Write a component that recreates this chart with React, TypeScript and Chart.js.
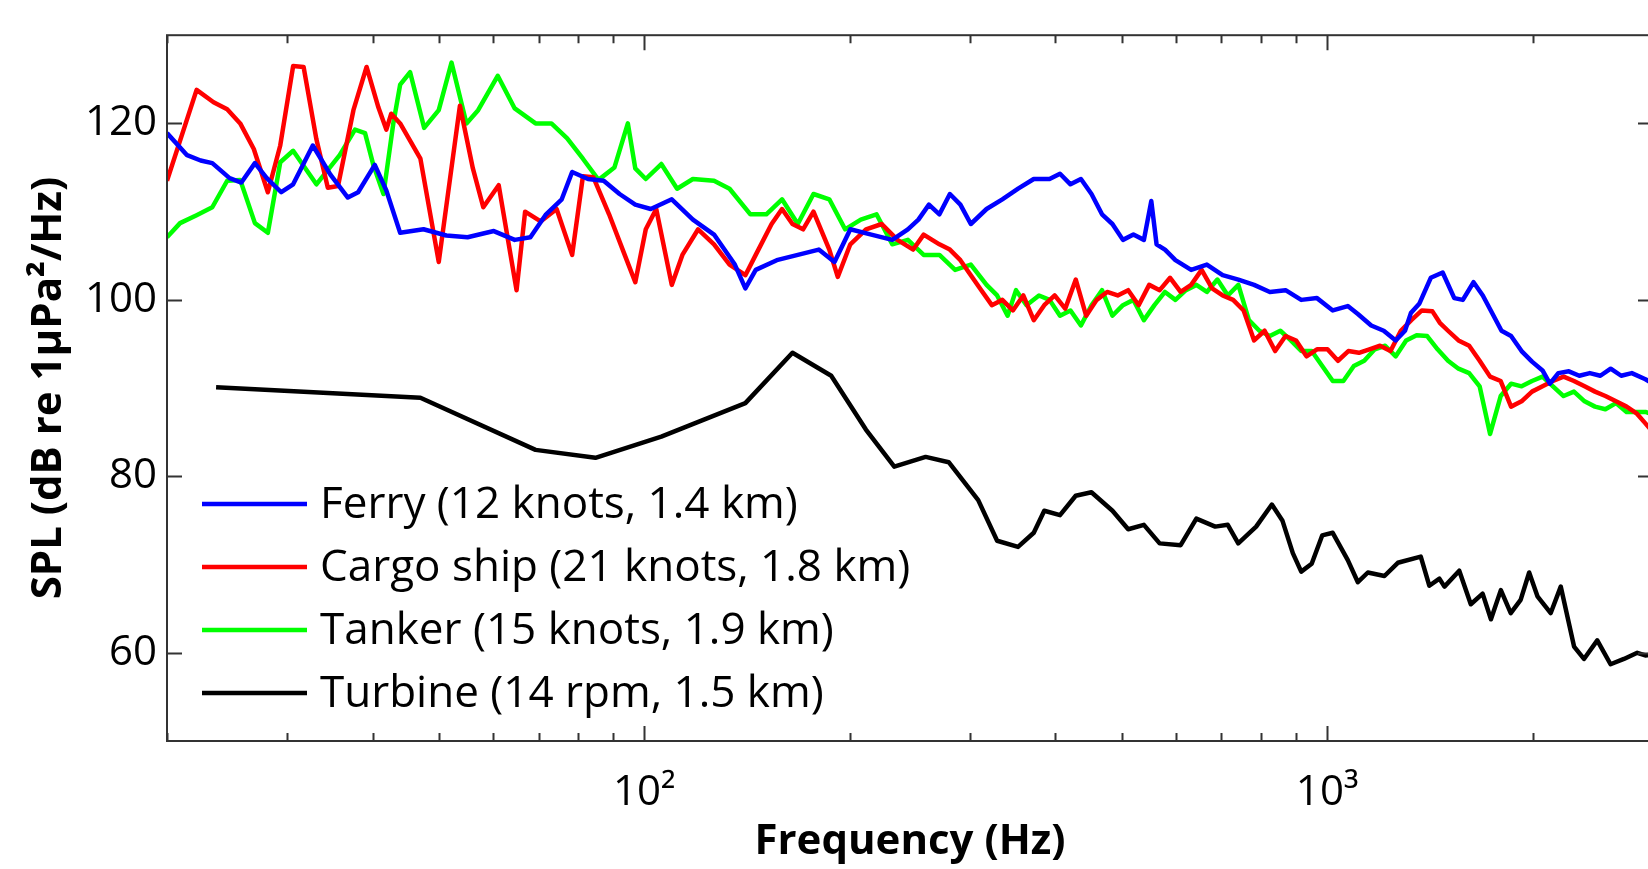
import React, { useEffect, useRef } from 'react';
import { Chart, registerables } from 'chart.js';

Chart.register(...registerables);

// ---------------- data (frequency in Hz, level in dB) ----------------
const ferryHz = [20, 21.4, 22.4, 23.3, 24.7, 25.7, 26.9, 28.0, 29.4, 30.6, 32.7, 34.7, 36.8, 38.1, 40.3, 41.9, 43.9, 47.5, 51.3, 55.1, 60.2, 64.6, 68.1, 71.8, 75.7, 78.4, 82.7, 87.2, 92.0, 97.0, 102.2, 109.7, 117.8, 126.5, 135.7, 140.6, 145.6, 156.3, 167.8, 180.1, 189.9, 200.3, 215.0, 230.7, 243.2, 252.0, 261.1, 270.5, 280.2, 290.3, 300.7, 317.1, 334.4, 352.7, 371.8, 392.1, 406.2, 420.8, 435.9, 451.7, 468.0, 484.7, 502.2, 520.3, 539.0, 552.6, 562.5, 578.7, 599.4, 632.1, 666.5, 702.9, 741.2, 781.6, 824.2, 869, 916.2, 966.2, 1019, 1072, 1109, 1160, 1210, 1260, 1300, 1326, 1365, 1418, 1476, 1535, 1580, 1638, 1690, 1747, 1800, 1859, 1926, 1995, 2067, 2119, 2180, 2259, 2340, 2424, 2512, 2601, 2695, 2793, 2924, 3000];
const ferryDb = [118.9, 116.4, 115.8, 115.5, 113.8, 113.3, 115.5, 113.8, 112.2, 113.1, 117.5, 114.2, 111.6, 112.2, 115.3, 112.4, 107.6, 108.0, 107.3, 107.1, 107.8, 106.8, 107.1, 109.7, 111.4, 114.5, 113.7, 113.5, 112.0, 110.8, 110.3, 111.4, 109.1, 107.4, 104.0, 101.3, 103.4, 104.5, 105.1, 105.7, 104.3, 108.0, 107.4, 106.8, 108.0, 109.1, 110.8, 109.7, 112.0, 110.8, 108.6, 110.3, 111.4, 112.6, 113.7, 113.7, 114.3, 113.1, 113.7, 112.0, 109.7, 108.6, 106.8, 107.4, 106.8, 111.2, 106.3, 105.7, 104.5, 103.4, 104.0, 102.8, 102.3, 101.7, 100.9, 101.1, 100.0, 100.2, 98.8, 99.3, 98.4, 97.1, 96.5, 95.4, 96.5, 98.5, 99.6, 102.5, 103.1, 100.2, 100.0, 102.0, 100.5, 98.4, 96.5, 95.9, 94.2, 93.0, 92.0, 90.5, 91.7, 91.9, 91.4, 91.7, 91.4, 92.2, 91.4, 91.7, 91.0, 90.5];

const cargoHz = [20, 22.1, 23.4, 24.5, 25.6, 26.8, 28.1, 29.3, 30.6, 31.7, 33.1, 34.4, 35.6, 37.5, 39.2, 40.8, 41.9, 42.6, 43.9, 47.0, 50.0, 53.7, 56.1, 58.1, 61.2, 65.0, 66.9, 70.5, 74.4, 78.4, 81.3, 84.2, 88.8, 93.6, 97.0, 100.5, 104.1, 109.7, 113.7, 119.9, 126.5, 133.3, 140.6, 145.6, 153.6, 159.1, 164.8, 170.8, 176.9, 186.6, 192, 200.3, 211.2, 222.7, 234.8, 247.6, 256.5, 270.5, 280.2, 290.3, 300.7, 311.5, 322.8, 334.4, 346.5, 358.9, 371.8, 385.2, 399.0, 413.4, 428.4, 443.7, 459.7, 476.2, 493.4, 511.2, 529.6, 548.7, 568.5, 588.8, 610.1, 632.1, 654.8, 678.4, 702.9, 728.2, 754.5, 781.6, 809.8, 839, 869, 900.4, 932.6, 966.2, 1001, 1037, 1074, 1113, 1153, 1195, 1238, 1282, 1328, 1376, 1426, 1462, 1503, 1557, 1614, 1672, 1732, 1795, 1859, 1926, 1995, 2067, 2141, 2219, 2298, 2382, 2467, 2555, 2648, 2744, 2842, 2924, 3000];
const cargoDb = [113.5, 123.8, 122.4, 121.6, 120.0, 117.1, 112.2, 117.5, 126.5, 126.4, 118.2, 112.7, 112.9, 121.5, 126.4, 121.8, 119.3, 121.1, 120.0, 116.0, 104.3, 122.0, 114.9, 110.5, 113.0, 101.1, 110.0, 108.9, 110.3, 105.1, 114.0, 113.9, 109.7, 105.1, 102.0, 108.0, 110.3, 101.7, 105.1, 108.0, 106.3, 104.0, 102.8, 105.1, 108.6, 110.3, 108.6, 108.0, 110.0, 105.7, 102.6, 106.3, 108.0, 108.6, 106.8, 105.7, 107.4, 106.3, 105.7, 104.5, 102.8, 101.1, 99.4, 100.0, 98.8, 100.5, 97.7, 99.4, 100.5, 99.0, 102.3, 98.2, 100.0, 100.9, 100.5, 101.1, 99.4, 101.7, 101.1, 102.5, 100.9, 101.7, 103.4, 101.3, 100.5, 100.0, 98.8, 95.4, 96.5, 94.2, 95.9, 95.4, 93.6, 94.4, 94.4, 93.1, 94.2, 94.0, 94.4, 94.8, 94.2, 96.5, 97.7, 98.8, 98.7, 97.4, 96.5, 95.4, 94.8, 93.1, 91.3, 90.8, 87.9, 88.5, 89.6, 90.2, 90.8, 91.3, 90.8, 90.2, 89.6, 89.1, 88.5, 87.9, 87.1, 86.0, 85.0];

const tankerHz = [20, 20.9, 22.1, 23.3, 24.5, 25.6, 26.9, 28.1, 29.3, 30.6, 33.1, 35.8, 37.7, 39.0, 40.1, 41.5, 42.9, 43.9, 45.4, 47.6, 50.0, 52.2, 54.9, 57.1, 61.0, 64.6, 69.3, 73.1, 77.1, 81.3, 85.7, 90.4, 94.6, 97.0, 100.5, 105.9, 111.7, 117.8, 126.5, 133.3, 143.0, 150.9, 159.1, 167.8, 176.9, 186.6, 196.8, 207.5, 218.8, 230.7, 243.2, 256.5, 270.5, 285.2, 300.7, 317.1, 328.6, 340.4, 350.2, 362.8, 378.4, 392.1, 406.2, 420.8, 435.9, 451.7, 468.0, 484.7, 502.2, 520.3, 539.0, 558.5, 578.7, 599.4, 621.0, 643.3, 666.5, 690.6, 715.4, 741.2, 768.0, 795.6, 824.2, 853.9, 884.6, 916.2, 949.2, 983.5, 1019, 1056, 1094, 1133, 1174, 1216, 1260, 1305, 1352, 1401, 1451, 1503, 1557, 1614, 1672, 1732, 1795, 1859, 1926, 1995, 2067, 2141, 2219, 2298, 2382, 2467, 2555, 2648, 2744, 2924, 3000];
const tankerDb = [107.1, 108.7, 109.6, 110.5, 113.5, 113.6, 108.7, 107.6, 115.6, 116.9, 113.1, 116.4, 119.3, 118.9, 115.3, 112.0, 120.0, 124.4, 125.8, 119.5, 121.5, 126.9, 120.0, 121.5, 125.4, 121.7, 120.0, 120.0, 118.3, 116.0, 113.6, 115.0, 120.0, 114.9, 113.7, 115.4, 112.6, 113.7, 113.5, 112.6, 109.7, 109.7, 111.4, 108.6, 112.0, 111.4, 108.0, 109.1, 109.7, 106.3, 106.8, 105.1, 105.1, 103.4, 104.0, 101.7, 100.5, 98.2, 101.1, 99.4, 100.5, 100.0, 98.2, 98.8, 97.1, 99.4, 101.1, 98.2, 99.4, 100.0, 97.7, 99.4, 100.9, 100.0, 101.1, 101.7, 100.9, 102.3, 100.5, 101.7, 97.7, 96.5, 95.9, 96.5, 95.4, 94.2, 94.2, 92.5, 90.8, 90.8, 92.5, 93.1, 94.4, 94.8, 93.6, 95.4, 96.0, 95.9, 94.4, 93.1, 92.2, 91.7, 90.2, 84.8, 89.1, 90.5, 90.2, 90.8, 91.3, 90.2, 89.1, 89.6, 88.5, 87.9, 87.6, 88.3, 87.3, 87.3, 87.0];

const turbineHz = [23.6, 47.0, 69.3, 84.8, 105.9, 140.6, 164.8, 187.8, 211.1, 232.3, 258.2, 279.1, 308.3, 328.6, 352.6, 371.8, 385.2, 406.2, 428.3, 451.6, 484.8, 511.2, 539.0, 568.4, 610.1, 643.3, 685.5, 715.2, 740.9, 787.0, 829.8, 859.7, 890.6, 916.2, 949.1, 983.3, 1018.8, 1072, 1109, 1147, 1213, 1269, 1371, 1411, 1460, 1485, 1561, 1623, 1689, 1737, 1796, 1857, 1920, 1976, 2032, 2125, 2198, 2299, 2377, 2486, 2600, 2720, 2845, 2923, 3000];
const turbineDb = [90.1, 88.9, 83.0, 82.1, 84.5, 88.3, 94.0, 91.4, 85.3, 81.1, 82.2, 81.6, 77.3, 72.7, 72.0, 73.6, 76.1, 75.6, 77.8, 78.2, 76.1, 74.0, 74.5, 72.4, 72.2, 75.2, 74.3, 74.5, 72.4, 74.3, 76.8, 75.0, 71.3, 69.2, 70.1, 73.3, 73.6, 70.5, 68.0, 69.1, 68.7, 70.2, 70.9, 67.6, 68.4, 67.5, 69.3, 65.5, 66.7, 63.8, 67.1, 64.5, 66.0, 69.1, 66.4, 64.5, 67.5, 60.7, 59.3, 61.4, 58.7, 59.3, 60.0, 59.7, 59.8];

const seriesLabels = [
  'Ferry (12 knots, 1.4 km)',
  'Cargo ship (21 knots, 1.8 km)',
  'Tanker (15 knots, 1.9 km)',
  'Turbine (14 rpm, 1.5 km)',
];
const seriesColors = ['#0000ff', '#ff0000', '#00ff00', '#000000'];

const yTickValues = [60, 80, 100, 120];
const xMajorTicks = [100, 1000];
const xMinorTicks = [20, 30, 40, 50, 60, 70, 80, 90, 200, 300, 400, 500, 600, 700, 800, 900, 2000, 3000];
const xTickText: Record<number, string> = { 100: '10²', 1000: '10³' };

const xTitle = 'Frequency (Hz)';
const yTitle = 'SPL (dB re 1μPa²/Hz)';

// ---------------- layout constants ----------------
const CANVAS_W = 1680;
const CANVAS_H = 869;
const PLOT_LEFT = 167;
const PLOT_TOP = 8;
const PLOT_BOTTOM = 741;
const PLOT_RIGHT = 1655;
const FONT = "'Open Sans', 'Noto Sans', sans-serif";

const LEGEND_LINE_X0 = 202;
const LEGEND_LINE_X1 = 307;
const LEGEND_TEXT_X = 320;
const LEGEND_ROW0_Y = 504;
const LEGEND_ROW_DY = 63;
const LEGEND_FONT_SIZE = 44;

const toPoints = (hz: number[], db: number[]) => hz.map((f, i) => ({ x: f, y: db[i] }));

const legendPlugin = {
  id: 'insideLegend',
  afterDatasetsDraw(chart: any) {
    const { ctx } = chart;
    ctx.save();
    ctx.font = `${LEGEND_FONT_SIZE}px ${FONT}`;
    ctx.textBaseline = 'middle';
    ctx.textAlign = 'left';
    chart.data.datasets.forEach((ds: any, i: number) => {
      const y = LEGEND_ROW0_Y + i * LEGEND_ROW_DY;
      ctx.strokeStyle = ds.borderColor;
      ctx.lineWidth = 4.5;
      ctx.lineCap = 'butt';
      ctx.beginPath();
      ctx.moveTo(LEGEND_LINE_X0, y);
      ctx.lineTo(LEGEND_LINE_X1, y);
      ctx.stroke();
      ctx.fillStyle = '#000';
      ctx.fillText(ds.label, LEGEND_TEXT_X, y + 1);
    });
    ctx.restore();
  },
};

const axesPlugin = {
  id: 'matlabAxes',
  afterDatasetsDraw(chart: any) {
    const { ctx, chartArea: a, scales } = chart;
    const xs = scales.x;
    const ys = scales.y;
    ctx.save();
    ctx.strokeStyle = '#333333';
    ctx.lineWidth = 2;
    ctx.strokeRect(a.left, a.top, a.right - a.left, a.bottom - a.top);
    ctx.beginPath();
    for (const t of xs.ticks) {
      const px = Math.round(xs.getPixelForValue(t.value)) + 0.5;
      const len = xMajorTicks.includes(t.value) ? 15 : 8;
      ctx.moveTo(px, a.bottom);
      ctx.lineTo(px, a.bottom - len);
      ctx.moveTo(px, a.top);
      ctx.lineTo(px, a.top + len);
    }
    for (const t of ys.ticks) {
      const py = Math.round(ys.getPixelForValue(t.value)) + 0.5;
      ctx.moveTo(a.left, py);
      ctx.lineTo(a.left + 15, py);
      ctx.moveTo(a.right, py);
      ctx.lineTo(a.right - 15, py);
    }
    ctx.stroke();
    ctx.restore();
  },
};

export default function App() {
  const canvasRef = useRef<HTMLCanvasElement | null>(null);

  useEffect(() => {
    if (!canvasRef.current) return;
    const hzSets = [ferryHz, cargoHz, tankerHz, turbineHz];
    const dbSets = [ferryDb, cargoDb, tankerDb, turbineDb];
    const datasets = seriesLabels.map((label, i) => ({
      label,
      data: toPoints(hzSets[i], dbSets[i]),
      borderColor: seriesColors[i],
      backgroundColor: seriesColors[i],
      borderWidth: 4.5,
      pointRadius: 0,
      tension: 0,
      fill: false,
      borderJoinStyle: 'round' as const,
    }));

    const chart = new Chart(canvasRef.current, {
      type: 'line',
      data: { datasets },
      options: {
        responsive: false,
        animation: false,
        devicePixelRatio: 1,
        events: [],
        layout: { padding: { left: 0, top: PLOT_TOP, right: CANVAS_W - PLOT_RIGHT, bottom: 0 } },
        scales: {
          x: {
            type: 'logarithmic',
            min: 20,
            max: 3000,
            afterBuildTicks: (s: any) => {
              s.ticks = [...xMinorTicks, ...xMajorTicks].sort((p, q) => p - q).map((v) => ({ value: v }));
            },
            afterFit: (s: any) => {
              s.height = CANVAS_H - PLOT_BOTTOM;
            },
            grid: { display: false, drawTicks: false },
            border: { display: false },
            ticks: {
              autoSkip: false,
              maxRotation: 0,
              minRotation: 0,
              padding: 27,
              color: '#000',
              font: { family: FONT, size: 42 },
              callback: (v: any) => xTickText[Number(v)] ?? '',
            },
            title: {
              display: true,
              text: xTitle,
              color: '#000',
              font: { family: FONT, size: 42, weight: 'bold' },
              padding: { top: 0, bottom: 2 },
            },
          },
          y: {
            type: 'linear',
            min: 50,
            max: 130,
            afterBuildTicks: (s: any) => {
              s.ticks = yTickValues.map((v) => ({ value: v }));
            },
            afterFit: (s: any) => {
              s.width = PLOT_LEFT;
            },
            grid: { display: false, drawTicks: false },
            border: { display: false },
            ticks: {
              padding: 10,
              color: '#000',
              font: { family: FONT, size: 42 },
            },
            title: {
              display: true,
              text: yTitle,
              color: '#000',
              font: { family: FONT, size: 42, weight: 'bold' },
              padding: { top: 24, bottom: 0 },
            },
          },
        },
        plugins: {
          legend: { display: false },
          tooltip: { enabled: false },
        },
      },
      plugins: [legendPlugin, axesPlugin],
    } as any);

    return () => chart.destroy();
  }, []);

  return (
    <div style={{ width: 1648, height: 869, overflow: 'hidden', position: 'relative', background: '#fff' }}>
      <style>{'html,body{margin:0;padding:0;overflow:hidden;background:#fff;}'}</style>
      <canvas
        ref={canvasRef}
        width={CANVAS_W}
        height={CANVAS_H}
        style={{ position: 'absolute', left: 0, top: 0, display: 'block' }}
      />
    </div>
  );
}
